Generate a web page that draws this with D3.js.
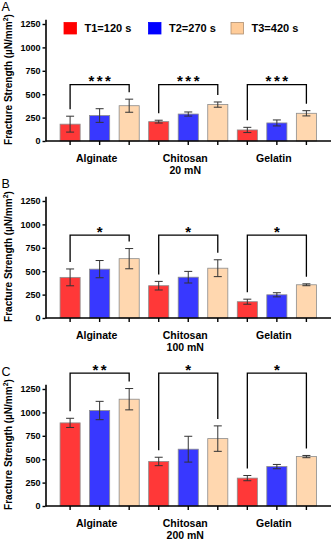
<!DOCTYPE html>
<html>
<head>
<meta charset="utf-8">
<script src="https://cdn.jsdelivr.net/npm/d3@7"></script>
<style>
  html, body { margin: 0; padding: 0; background: #fff; }
  svg { display: block; font-family: "Liberation Sans", Arial, sans-serif; }
</style>
</head>
<body>
<svg id="chart" width="332" height="541"></svg>
<script>
const groups = ["Alginate", "Chitosan", "Gelatin"]
const series = ["T1=120 s", "T2=270 s", "T3=420 s"]
const yTicks = [0, 250, 500, 750, 1000, 1250]

// means / SD per group (rows) and series (cols)
const meansA = [[180, 272, 377], [207, 288, 389], [118, 193, 296]]
const errA = [[85, 73, 70], [15, 22, 28], [28, 32, 28]]
const meansB = [[434, 522, 634], [345, 436, 532], [174, 248, 355]]
const errB = [[90, 92, 108], [46, 62, 90], [27, 22, 10]]
const meansC = [[888, 1020, 1141], [476, 607, 720], [298, 421, 528]]
const errC = [[49, 98, 114], [45, 138, 136], [28, 23, 12]]

const bracketA = [603, 603, 603]
const bracketB = [885, 885, 885]
const bracketC = [1420, 1420, 1420]
const starsA = ["***", "***", "***"]
const starsB = ["*", "*", "*"]
const starsC = ["**", "*", "*"]

const forces = ["20 mN", "100 mN", "200 mN"]
const letters = ["A", "B", "C"]

const colors = ["#ff0000", "#0000ff", "#ffcc99"]

const panels = [
  {means: meansA, err: errA, bracket: bracketA, stars: starsA, y0: 141},
  {means: meansB, err: errB, bracket: bracketB, stars: starsB, y0: 318},
  {means: meansC, err: errC, bracket: bracketC, stars: starsC, y0: 506},
]

const svg = d3.select("#chart")
const axisX = 45.5
const axisRight = 331
const per1250 = 117

const gx = d3.scaleBand().domain(groups).range([axisX, axisRight]).paddingInner(0).paddingOuter(0.111)
const sx = d3.scaleBand().domain(series).range([0, gx.bandwidth()]).paddingInner(0.32).paddingOuter(0.16)
const cx = (g, s) => gx(g) + sx(s) + sx.bandwidth() / 2

panels.forEach((p, pi) => {
  const y = d3.scaleLinear().domain([0, 1300]).range([p.y0, p.y0 - per1250 * 1300 / 1250])
  const root = svg.append("g")

  // bars
  groups.forEach((g, gi) => {
    series.forEach((s, si) => {
      const v = p.means[gi][si]
      root.append("rect")
        .attr("x", gx(g) + sx(s))
        .attr("y", y(v))
        .attr("width", sx.bandwidth())
        .attr("height", y(0) - y(v))
        .attr("fill", colors[si])
        .attr("fill-opacity", 0.78)
        .attr("stroke", "#8c8c8c")
        .attr("stroke-width", 0.8)
    })
  })

  // error bars
  groups.forEach((g, gi) => {
    series.forEach((s, si) => {
      const v = p.means[gi][si], e = p.err[gi][si]
      const c = cx(g, s)
      const eb = root.append("g").attr("stroke", "#333").attr("stroke-width", 1)
      eb.append("line").attr("x1", c).attr("x2", c).attr("y1", y(v - e)).attr("y2", y(v + e))
      eb.append("line").attr("x1", c - 4).attr("x2", c + 4).attr("y1", y(v + e)).attr("y2", y(v + e))
      eb.append("line").attr("x1", c - 4).attr("x2", c + 4).attr("y1", y(v - e)).attr("y2", y(v - e))
    })
  })

  // y axis
  const ya = root.append("g")
    .attr("transform", `translate(${axisX},0)`)
    .call(d3.axisLeft(y).tickValues(yTicks).tickFormat(d3.format("d")).tickSize(3).tickSizeOuter(0).tickPadding(2))
  ya.select(".domain").attr("stroke", "#000").attr("stroke-width", 1.6)
  ya.selectAll(".tick line").attr("stroke", "#000").attr("stroke-width", 1.4)
  ya.selectAll(".tick text").attr("font-size", 9).attr("font-weight", "bold").attr("fill", "#000")
    .attr("font-family", "Liberation Sans, Arial, sans-serif")

  // x axis
  root.append("line")
    .attr("x1", axisX).attr("x2", axisRight)
    .attr("y1", y(0)).attr("y2", y(0))
    .attr("stroke", "#000").attr("stroke-width", 1.6)
  groups.forEach((g) => {
    series.forEach((s) => {
      root.append("line")
        .attr("x1", cx(g, s)).attr("x2", cx(g, s))
        .attr("y1", y(0)).attr("y2", y(0) + 4)
        .attr("stroke", "#000").attr("stroke-width", 1.4)
    })
    root.append("text")
      .attr("x", gx(g) + gx.bandwidth() / 2 - 3)
      .attr("y", y(0) + 21)
      .attr("text-anchor", "middle")
      .attr("font-size", 10.5)
      .attr("font-weight", "bold")
      .text(g)
  })
  root.append("text")
    .attr("x", gx(groups[1]) + gx.bandwidth() / 2 - 3)
    .attr("y", y(0) + 33)
    .attr("text-anchor", "middle")
    .attr("font-size", 10.5)
    .attr("font-weight", "bold")
    .text(forces[pi])

  // significance brackets
  groups.forEach((g, gi) => {
    const xl = cx(g, series[0]), xr = cx(g, series[2])
    const yb = y(p.bracket[gi])
    const yl = y(p.means[gi][0] + p.err[gi][0]) - 7
    const yr = y(p.means[gi][2] + p.err[gi][2]) - 7
    root.append("path")
      .attr("d", `M${xl},${yl}V${yb}H${xr}V${yr}`)
      .attr("fill", "none")
      .attr("stroke", "#000")
      .attr("stroke-width", 1.3)
    root.append("text")
      .attr("x", (xl + xr) / 2 + 1.25)
      .attr("y", yb + 1.5)
      .attr("text-anchor", "middle")
      .attr("font-size", 15)
      .attr("font-weight", "bold")
      .attr("letter-spacing", 2.5)
      .text(p.stars[gi])
  })

  // y title
  const ty = root.append("text")
    .attr("transform", `translate(12,${(y(0) + y(1250)) / 2 - 3}) rotate(-90)`)
    .attr("text-anchor", "middle")
    .attr("font-size", 10)
    .attr("font-weight", "bold")
  ty.append("tspan").text("Fracture Strength (µN/mm")
  ty.append("tspan").attr("font-size", 7).attr("dy", -4).text("2")
  ty.append("tspan").attr("dy", 4).text(")")

  // panel letter
  root.append("text")
    .attr("x", 1.5)
    .attr("y", y(1250) - 13)
    .attr("font-size", 12.5)
    .text(letters[pi])
})

// legend (panel A)
const legendX = [64, 148.5, 231]
const lg = svg.append("g")
series.forEach((s, i) => {
  lg.append("rect")
    .attr("x", legendX[i]).attr("y", 22.5)
    .attr("width", 12.5).attr("height", 11.5)
    .attr("fill", colors[i])
    .attr("stroke", i === 2 ? "#b09070" : colors[i])
    .attr("stroke-width", 0.8)
  lg.append("text")
    .attr("x", legendX[i] + 20.5)
    .attr("y", 32)
    .attr("font-size", 11)
    .attr("font-weight", "bold")
    .text(s)
})
</script>
</body>
</html>
